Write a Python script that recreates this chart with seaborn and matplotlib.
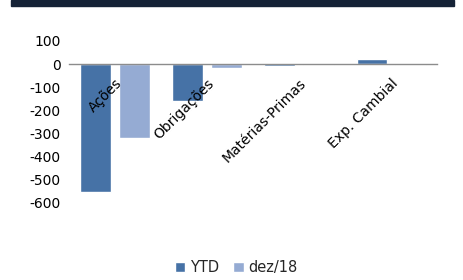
import pandas as pd
import matplotlib
matplotlib.use("Agg")
import matplotlib.pyplot as plt
import seaborn as sns
from matplotlib.patches import Rectangle

categorias = ["Ações", "Obrigações", "Matérias-Primas", "Exp. Cambial"]
ytd = [-552, -158, -10, 20]
dez18 = [-320, -17, -4, -4]
series = ["YTD", "dez/18"]
cores = ["#4672A6", "#95ABD3"]

df = pd.DataFrame({
    "categoria": categorias * 2,
    "serie": [series[0]] * len(categorias) + [series[1]] * len(categorias),
    "valor": ytd + dez18,
})

sns.set_theme(style="white")
plt.rcParams["font.family"] = ["DejaVu Sans"]
plt.rcParams["axes.unicode_minus"] = False

fig = plt.figure(figsize=(4.63, 2.8), dpi=100)
ax = fig.add_axes([0.149, 0.275, 0.795, 0.579])

sns.barplot(data=df, x="categoria", y="valor", hue="serie", palette=cores,
            width=0.83, gap=0.19, ax=ax, saturation=1)

ax.set_ylim(-600, 100)
ax.set_yticks(range(-600, 101, 100))
ax.set_xlabel("")
ax.set_ylabel("")
ax.set_axisbelow(False)
for s in ["top", "right", "left"]:
    ax.spines[s].set_visible(False)
ax.spines["bottom"].set_position(("data", 0))
ax.spines["bottom"].set_color("#8c8c8c")
ax.spines["bottom"].set_linewidth(1)
ax.tick_params(axis="both", length=0, labelsize=10, colors="black")
ax.tick_params(axis="y", pad=6)
ax.tick_params(axis="x", pad=9)
plt.setp(ax.get_xticklabels(), rotation=45, ha="right", rotation_mode="anchor")

ax.legend(loc="center", bbox_to_anchor=(0.51, 0.045), bbox_transform=fig.transFigure,
          ncol=2, frameon=False, fontsize=10.5, handlelength=0.7, handleheight=0.7,
          handletextpad=0.3, columnspacing=1.0)

# faixa escura no topo
fig.patches.append(Rectangle((11 / 463, 1 - 6 / 280), 443 / 463, 6 / 280,
                             transform=fig.transFigure, color="#152236", zorder=0))

fig.savefig("out.png", dpi=100)
